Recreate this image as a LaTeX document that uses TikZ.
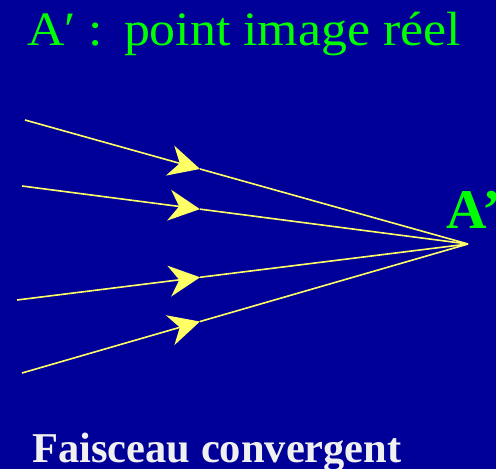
\documentclass[tikz,border=0pt]{standalone}
\usepackage{fontspec}
\usepackage{graphicx}
\setmainfont{Liberation Serif}
\usetikzlibrary{calc,arrows.meta}
\definecolor{bgblue}{RGB}{0,0,153}
\definecolor{raygreen}{RGB}{0,255,0}
\definecolor{rayyellow}{RGB}{255,255,102}

\begin{document}
\begin{tikzpicture}[x=1pt, y=-1pt,
    ray/.style={draw=rayyellow, line width=1.6pt},
    arrow/.style={ray, -{Stealth[length=31pt, width=31pt, inset=10pt, fill=rayyellow]}},
    title/.style={anchor=base west, inner sep=0pt, text=raygreen, font=\fontsize{48}{52}\selectfont},
    label/.style={anchor=base west, inner sep=0pt, text=raygreen, font=\fontsize{56}{60}\selectfont\bfseries},
    caption/.style={anchor=base west, inner sep=0pt, text=white!94!black, font=\fontsize{42.5}{48}\selectfont\bfseries}]
\fill[bgblue] (0,0) rectangle (496,469);
\useasboundingbox (0,0) rectangle (496,469);
\node[title] (head) at (27,45) {\scalebox{1.08}[1]{A′ :\hspace{0.4em}point image réel}};
% image point and incoming rays
\coordinate (img) at (468,244);
\coordinate (s1) at (25,120);
\coordinate (s2) at (22,186);
\coordinate (s3) at (17,300);
\coordinate (s4) at (22,373);
\coordinate (m1) at ($(s1)!0.395!(img)$);
\coordinate (m2) at ($(s2)!0.399!(img)$);
\coordinate (m3) at ($(s3)!0.406!(img)$);
\coordinate (m4) at ($(s4)!0.399!(img)$);
\draw[arrow] (s1) -- (m1);
\draw[arrow] (s2) -- (m2);
\draw[arrow] (s3) -- (m3);
\draw[arrow] (s4) -- (m4);
\draw[ray] (m1) -- (img);
\draw[ray] (m2) -- (img);
\draw[ray] (m3) -- (img);
\draw[ray] (m4) -- (img);
\node[label] (aprime) at (446,228) {A’};
\node[caption] (foot) at (32,462) {Faisceau convergent};
\end{tikzpicture}
\end{document}
